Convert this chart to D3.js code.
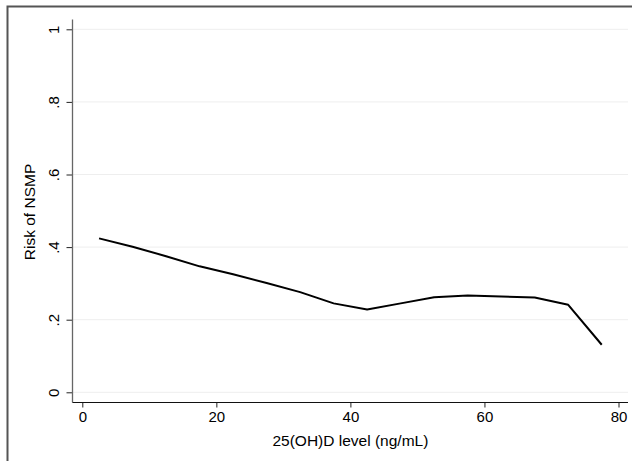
<!DOCTYPE html>
<html>
<head>
<meta charset="utf-8">
<script src="https://cdn.jsdelivr.net/npm/d3@7/dist/d3.min.js"></script>
<style>
  html, body { margin: 0; padding: 0; background: #fff; }
  svg { display: block; }
  text { font-family: "Liberation Sans", Arial, Helvetica, sans-serif; fill: #000; }
</style>
</head>
<body>
<svg id="chart" width="632" height="461"></svg>
<script>
// Data
const xValues = [2.5, 7.5, 12.5, 17.5, 22.5, 27.5, 32.5, 37.5, 42.5, 47.5, 52.5, 57.5, 62.5, 67.5, 72.5, 77.5];
const riskValues = [0.424, 0.401, 0.375, 0.347, 0.325, 0.301, 0.276, 0.245, 0.228, 0.245, 0.262, 0.267, 0.264, 0.261, 0.241, 0.131];
const xTicks = [0, 20, 40, 60, 80];
const yTicks = [0, 0.2, 0.4, 0.6, 0.8, 1];
const yTickLabels = ["0", ".2", ".4", ".6", ".8", "1"];
const xTitle = "25(OH)D level (ng/mL)";
const yTitle = "Risk of NSMP";

const svg = d3.select("#chart");

// Outer frame (top and left edges visible)
svg.append("path")
  .attr("d", "M7.5,461 L7.5,6.5 L632,6.5")
  .attr("fill", "none")
  .attr("stroke", "#555")
  .attr("stroke-width", 2);

const x = d3.scaleLinear().domain([0, 80]).range([82.3, 618.5]);
const y = d3.scaleLinear().domain([0, 1]).range([392.3, 29.3]);

const plotLeft = 72.5, plotRight = 628, plotTop = 19.5, plotBottom = 402.5;

// Gridlines
svg.append("g")
  .selectAll("line")
  .data(yTicks)
  .join("line")
  .attr("x1", plotLeft)
  .attr("x2", plotRight)
  .attr("y1", d => y(d))
  .attr("y2", d => y(d))
  .attr("stroke", "#eeeeee")
  .attr("stroke-width", 1);

// Y axis
const yAxis = d3.axisLeft(y)
  .tickValues(yTicks)
  .tickFormat((d, i) => yTickLabels[i])
  .tickSize(6)
  .tickPadding(7);
const gy = svg.append("g")
  .attr("transform", `translate(${plotLeft},0)`)
  .call(yAxis);
gy.select(".domain").remove();
gy.append("line")
  .attr("x1", 0).attr("x2", 0)
  .attr("y1", plotTop).attr("y2", plotBottom)
  .attr("stroke", "#666").attr("stroke-width", 1.3);
gy.selectAll(".tick line").attr("stroke", "#222");
gy.selectAll(".tick text")
  .attr("font-size", 15)
  .attr("x", null).attr("dy", null)
  .attr("text-anchor", "middle")
  .attr("transform", "translate(-14,0) rotate(-90)")
  .attr("y", 0);

// X axis
const xAxis = d3.axisBottom(x)
  .tickValues(xTicks)
  .tickFormat(d3.format("d"))
  .tickSize(5)
  .tickPadding(4);
const gx = svg.append("g")
  .attr("transform", `translate(0,${plotBottom})`)
  .call(xAxis);
gx.select(".domain").remove();
gx.append("line")
  .attr("x1", plotLeft).attr("x2", plotRight)
  .attr("y1", 0).attr("y2", 0)
  .attr("stroke", "#111").attr("stroke-width", 1.2);
gx.selectAll(".tick line").attr("stroke", "#222");
gx.selectAll(".tick text").attr("font-size", 15);

// Axis titles
svg.append("text")
  .attr("x", x(40))
  .attr("y", 446)
  .attr("text-anchor", "middle")
  .attr("font-size", 15.5)
  .text(xTitle);

svg.append("text")
  .attr("transform", `translate(35,${(plotTop + plotBottom) / 2 + 1}) rotate(-90)`)
  .attr("text-anchor", "middle")
  .attr("font-size", 15.5)
  .text(yTitle);

// Line
const data = xValues.map((v, i) => ({ x: v, y: riskValues[i] }));
svg.append("path")
  .datum(data)
  .attr("fill", "none")
  .attr("stroke", "#000")
  .attr("stroke-width", 2)
  .attr("stroke-linejoin", "round")
  .attr("d", d3.line().x(d => x(d.x)).y(d => y(d.y)));
</script>
</body>
</html>
